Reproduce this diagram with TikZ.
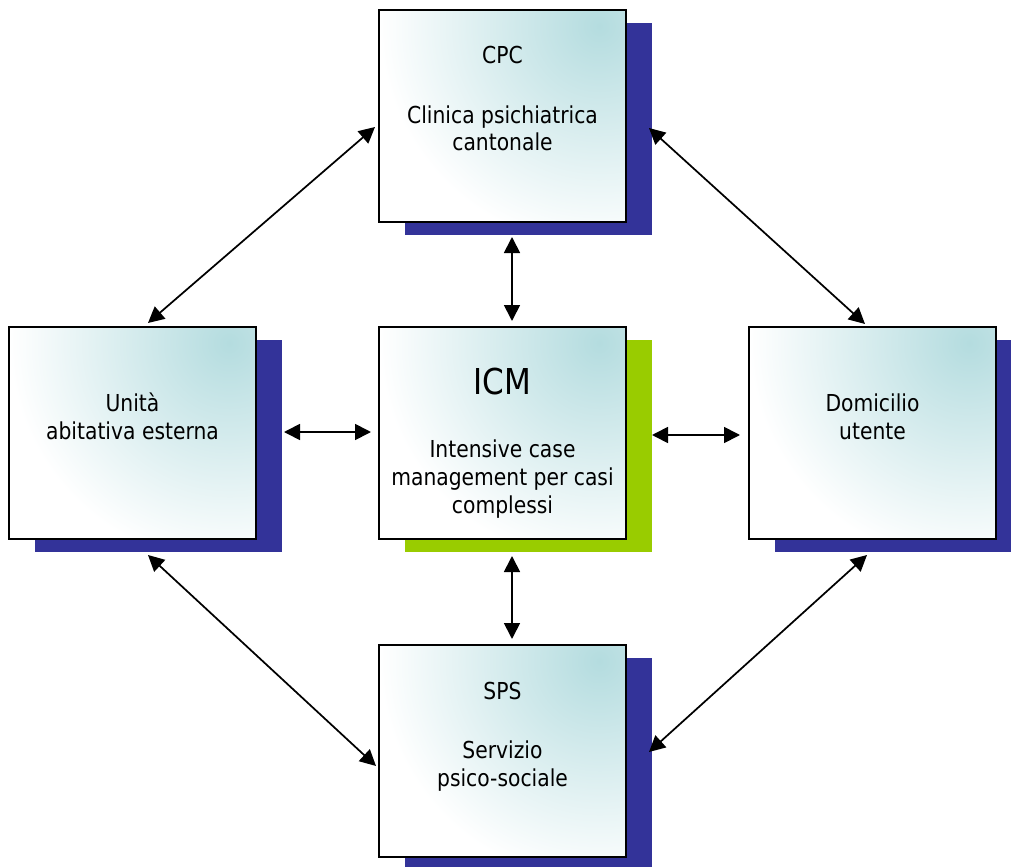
\documentclass[tikz,border=0pt]{standalone}
\usepackage{fontspec}
\setmainfont{DejaVu Sans}[FakeStretch=0.87]
\usetikzlibrary{arrows.meta,shadows}
\definecolor{tealc}{HTML}{B4DCDF}
\definecolor{shblue}{HTML}{333399}
\definecolor{shgreen}{HTML}{99CC00}
\tikzset{
  box/.style={draw=black, line width=1.5pt, minimum width=185.25pt, minimum height=159pt, inner sep=0pt,
    path picture={\fill[white] (path picture bounding box.south west) rectangle (path picture bounding box.north east);
      \shade[inner color=tealc, outer color=white] ([shift={(-20pt,-12pt)}]path picture bounding box.north east) circle (165pt);},
    general shadow={fill=#1, shadow xshift=19.5pt, shadow yshift=-9.75pt}},
  txt/.style={anchor=base, inner sep=0pt, font=\fontsize{17.5pt}{21pt}\selectfont},
  bigtxt/.style={anchor=base, inner sep=0pt, font=\fontsize{26.75pt}{32pt}\selectfont},
  arr/.style={{Triangle[length=12pt,width=12pt]}-{Triangle[length=12pt,width=12pt]}, line width=1.3pt, black}
}
\begin{document}
\begin{tikzpicture}[x=0.75pt, y=-0.75pt]
\useasboundingbox (0,0) rectangle (1011,867);
\node[box=shblue] (cpc) at (502.5,116) {};
\node[box=shgreen] (icm) at (502.5,433) {};
\node[box=shblue] (unita) at (132.5,433) {};
\node[box=shblue] (dom) at (872.5,433) {};
\node[box=shblue] (sps) at (502.5,751) {};

\node[txt] (cpcA) at (502.5,64) {CPC};
\node[txt] (cpcB) at (502.5,123) {Clinica psichiatrica};
\node[txt] (cpcC) at (502.5,151) {cantonale};

\node[bigtxt] (icmA) at (502.5,394) {ICM};
\node[txt] (icmB) at (502.5,457) {Intensive case};
\node[txt] (icmC) at (502.5,485) {management per casi};
\node[txt] (icmD) at (502.5,513) {complessi};

\node[txt] (unA) at (132.5,411) {Unità};
\node[txt] (unB) at (132.5,439) {abitativa esterna};

\node[txt] (domA) at (872.5,411) {Domicilio};
\node[txt] (domB) at (872.5,439) {utente};

\node[txt] (spsA) at (502.5,699) {SPS};
\node[txt] (spsB) at (502.5,758) {Servizio};
\node[txt] (spsC) at (502.5,786) {psico-sociale};

\draw[arr] ([shift={(-3,11)}]cpc.west) -- ([shift={(15.5,-3)}]unita.north);
\draw[arr] ([shift={(22,12)}]cpc.east) -- ([shift={(-7.5,-2)}]dom.north);
\draw[arr] ([shift={(15.5,15)}]unita.south) -- ([shift={(-2,15)}]sps.west);
\draw[arr] ([shift={(-5.5,15)}]dom.south) -- ([shift={(22,1)}]sps.east);
\draw[arr] ([shift={(9.5,14)}]cpc.south) -- ([shift={(9.5,-5)}]icm.north);
\draw[arr] ([shift={(9.5,16)}]icm.south) -- ([shift={(9.5,-5)}]sps.north);
\draw[arr] ([shift={(27,-1)}]unita.east) -- ([shift={(-7,-1)}]icm.west);
\draw[arr] ([shift={(25,2)}]icm.east) -- ([shift={(-8,2)}]dom.west);
\end{tikzpicture}
\end{document}
